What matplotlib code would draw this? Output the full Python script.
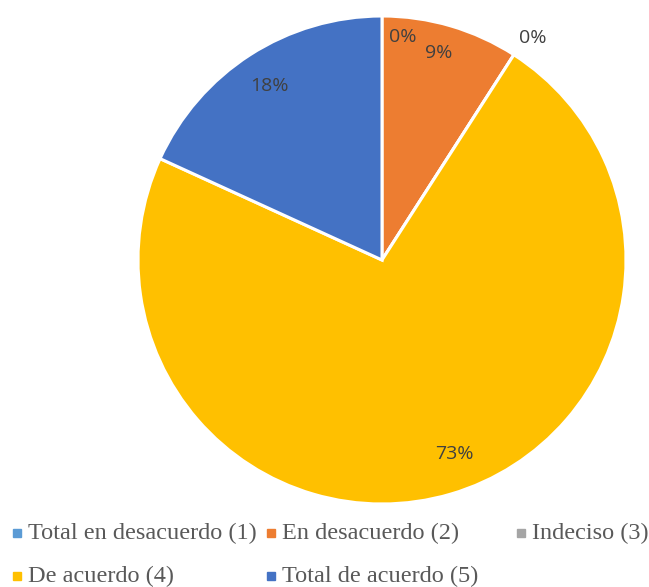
import numpy as np
import matplotlib.pyplot as plt
from matplotlib.patches import Rectangle

categories = ["Total en desacuerdo (1)", "En desacuerdo (2)", "Indeciso (3)",
              "De acuerdo (4)", "Total de acuerdo (5)"]
counts = [0, 1, 0, 8, 2]
colors = ["#5B9BD5", "#ED7D31", "#A5A5A5", "#FFC000", "#4472C4"]

W, H = 649, 587
fig = plt.figure(figsize=(W / 100, H / 100), dpi=100)
ax = fig.add_axes([0, 0, 1, 1])

# pixel-like coordinates, y measured upward from the bottom
cx, cy, R = 382, H - 260, 244
wedges, _ = ax.pie(counts, colors=colors, startangle=90, counterclock=False,
                   center=(cx, cy), radius=R, frame=True,
                   wedgeprops=dict(edgecolor="white", linewidth=2.2))
ax.set_xlim(0, W)
ax.set_ylim(0, H)
ax.set_aspect("equal")
ax.axis("off")

# label placement per slice (radius factor, angle nudge in degrees)
lab_r = [0.92, 0.88, 1.10, 0.85, 0.85]
lab_dang = [-5.4, 1.0, -1.5, 4.0, 0.0]
total = sum(counts)
for w, c, r, da in zip(wedges, counts, lab_r, lab_dang):
    mid = np.deg2rad((w.theta1 + w.theta2) / 2 + da)
    x = cx + r * R * np.cos(mid)
    y = cy + r * R * np.sin(mid)
    ax.text(x, y, "{:.0f}%".format(100 * c / total), ha="center", va="center",
            fontsize=14, color="#404040", family=["Open Sans", "DejaVu Sans"])

# legend rows
leg_pos = [(13, 533), (267, 533), (517, 533), (13, 576), (267, 576)]
for name, col, (lx, ly) in zip(categories, colors, leg_pos):
    ax.add_patch(Rectangle((lx, H - ly - 4), 8, 8, color=col, clip_on=False))
    ax.text(lx + 15, H - ly, name, ha="left", va="center", fontsize=17.5,
            color="#595959", family=["Liberation Serif", "DejaVu Serif"])

fig.savefig("out.png", dpi=100)
